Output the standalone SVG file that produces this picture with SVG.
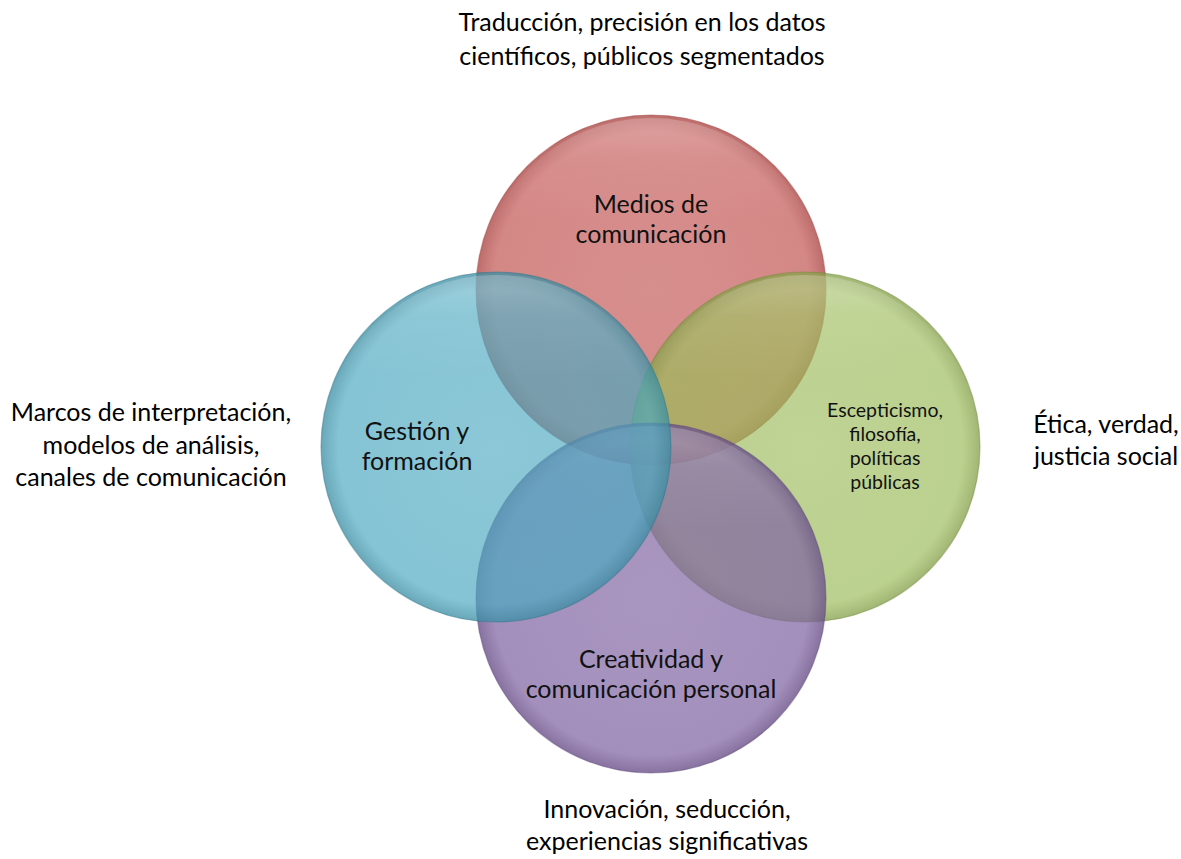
<svg xmlns="http://www.w3.org/2000/svg" width="1181" height="859" viewBox="0 0 1181 859">
  <style>
    .lbl { font-family: Lato, "Liberation Sans", sans-serif; font-size: 25px; fill: #000; text-anchor: middle; }
    .in { font-family: Lato, "Liberation Sans", sans-serif; font-size: 25px; fill: #111; text-anchor: middle; }
    .sm { font-size: 19.5px; }
    .c { stroke-width: 1.2; }
  </style>
  <defs>
    <radialGradient id="gRed" cx="0.5" cy="0.5" r="0.5">
      <stop offset="0" stop-color="#C0504D" stop-opacity="0.64"/>
      <stop offset="0.9" stop-color="#C0504D" stop-opacity="0.68"/>
      <stop offset="1" stop-color="#A8403D" stop-opacity="0.76"/>
    </radialGradient>
    <radialGradient id="gGreen" cx="0.5" cy="0.5" r="0.5">
      <stop offset="0" stop-color="#9BBB59" stop-opacity="0.64"/>
      <stop offset="0.9" stop-color="#9BBB59" stop-opacity="0.68"/>
      <stop offset="1" stop-color="#849F48" stop-opacity="0.76"/>
    </radialGradient>
    <radialGradient id="gPurple" cx="0.5" cy="0.5" r="0.5">
      <stop offset="0" stop-color="#8064A2" stop-opacity="0.68"/>
      <stop offset="0.9" stop-color="#8064A2" stop-opacity="0.72"/>
      <stop offset="1" stop-color="#6A5088" stop-opacity="0.8"/>
    </radialGradient>
    <radialGradient id="gBlue" cx="0.5" cy="0.5" r="0.5">
      <stop offset="0" stop-color="#4BA8C0" stop-opacity="0.64"/>
      <stop offset="0.9" stop-color="#4BA8C0" stop-opacity="0.68"/>
      <stop offset="1" stop-color="#3A8CA2" stop-opacity="0.76"/>
    </radialGradient>
    <linearGradient id="gloss" x1="0" y1="0" x2="0" y2="1">
      <stop offset="0" stop-color="#FFFFFF" stop-opacity="0.22"/>
      <stop offset="0.12" stop-color="#FFFFFF" stop-opacity="0.06"/>
      <stop offset="0.3" stop-color="#FFFFFF" stop-opacity="0"/>
    </linearGradient>
  </defs>

  <g id="node-medios">
    <circle class="c" cx="651" cy="290" r="175" fill="url(#gRed)" stroke="#9A3C3A" stroke-opacity="0.45"/>
    <circle cx="651" cy="290" r="172" fill="url(#gloss)"/>
    <text class="in" x="651" y="213">Medios de</text>
    <text class="in" x="651" y="243">comunicación</text>
  </g>

  <g id="node-escepticismo">
    <circle class="c" cx="805" cy="447" r="175" fill="url(#gGreen)" stroke="#6E8A3A" stroke-opacity="0.45"/>
    <circle cx="805" cy="447" r="172" fill="url(#gloss)"/>
    <text class="in sm" x="885" y="417">Escepticismo,</text>
    <text class="in sm" x="885" y="441">filosofía,</text>
    <text class="in sm" x="885" y="465">políticas</text>
    <text class="in sm" x="885" y="489">públicas</text>
  </g>

  <g id="node-creatividad">
    <circle class="c" cx="651" cy="598" r="175" fill="url(#gPurple)" stroke="#5A4478" stroke-opacity="0.45"/>
    <circle cx="651" cy="598" r="172" fill="url(#gloss)"/>
    <text class="in" x="651" y="668">Creatividad y</text>
    <text class="in" x="651" y="698">comunicación personal</text>
  </g>

  <g id="node-gestion">
    <circle class="c" cx="496" cy="447" r="175" fill="url(#gBlue)" stroke="#2E7388" stroke-opacity="0.45"/>
    <circle cx="496" cy="447" r="172" fill="url(#gloss)"/>
    <text class="in" x="417" y="440">Gestión y</text>
    <text class="in" x="417" y="470">formación</text>
  </g>

  <g id="labels">
    <text class="lbl" x="642" y="31">Traducción, precisión en los datos</text>
    <text class="lbl" x="642" y="65">científicos, públicos segmentados</text>
    <text class="lbl" x="151" y="421">Marcos de interpretación,</text>
    <text class="lbl" x="151" y="454">modelos de análisis,</text>
    <text class="lbl" x="151" y="486">canales de comunicación</text>
    <text class="lbl" x="1106" y="433">Ética, verdad,</text>
    <text class="lbl" x="1106" y="465">justicia social</text>
    <text class="lbl" x="667" y="818">Innovación, seducción,</text>
    <text class="lbl" x="667" y="850">experiencias significativas</text>
  </g>
</svg>
